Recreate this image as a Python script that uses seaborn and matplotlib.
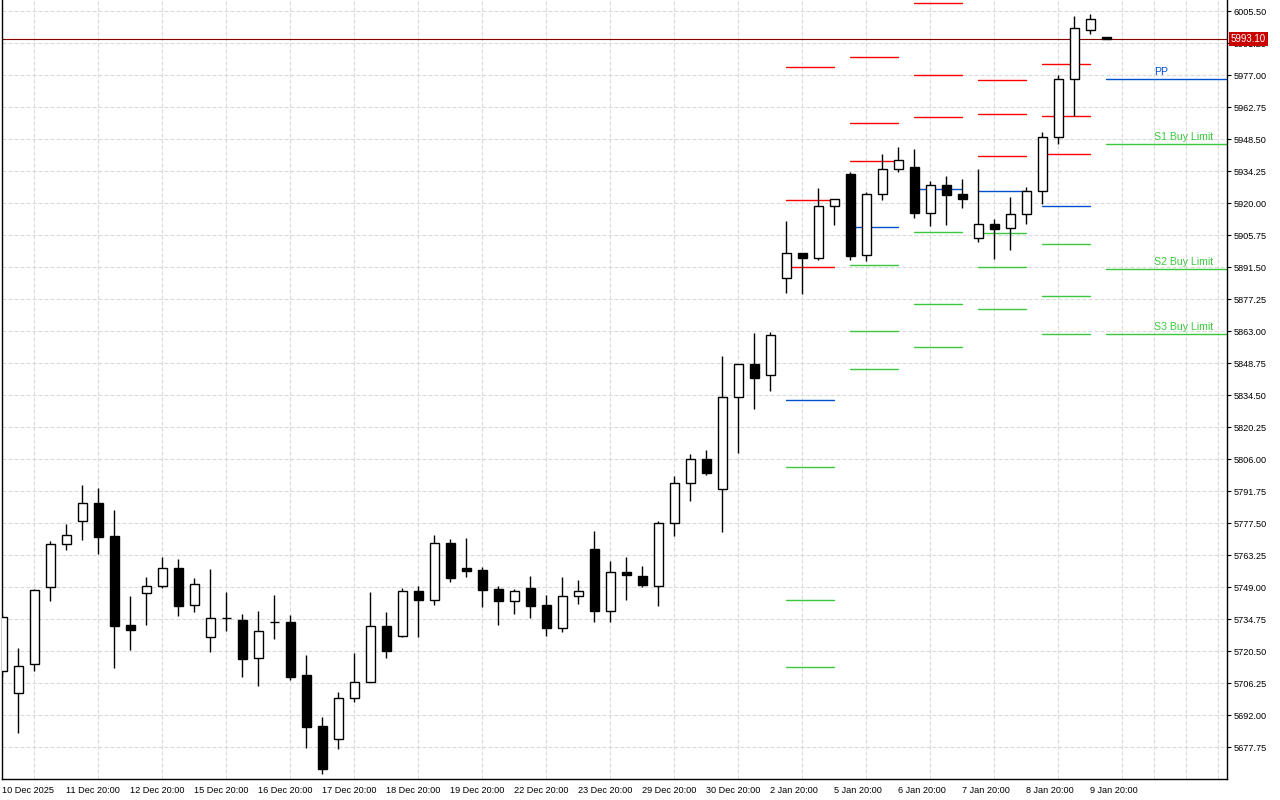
import matplotlib
matplotlib.use('Agg')
import matplotlib.pyplot as plt
import matplotlib.transforms as mtransforms
import numpy as np
import pandas as pd
import seaborn as sns

# OHLC of the bars, left to right
opens = [5711.72, 5701.79, 5714.70, 5748.99, 5768.14, 5778.38, 5786.40, 5771.70, 5732.20, 5746.32,
         5749.44, 5757.45, 5740.98, 5726.73, 5735.10, 5734.30, 5717.38, 5733.35, 5733.41, 5709.81,
         5687.10, 5681.31, 5699.56, 5706.96, 5731.63, 5727.17, 5747.21, 5743.20, 5768.59, 5757.45,
         5756.70, 5748.10, 5743.03, 5748.55, 5740.98, 5731.00, 5744.98, 5765.92, 5738.57, 5755.67,
         5753.89, 5749.71, 5777.49, 5795.31, 5805.99, 5792.63, 5833.60, 5848.43, 5843.40, 5886.60,
         5897.73, 5895.50, 5918.66, 5932.91, 5896.84, 5924.00, 5935.14, 5936.03, 5915.54, 5928.01,
         5924.00, 5904.41, 5910.65, 5908.86, 5915.10, 5925.34, 5949.39, 5975.22, 5997.04, 5993.92]
highs = [5737.00, 5721.96, 5748.24, 5769.61, 5777.18, 5794.55, 5793.08, 5783.42, 5745.12, 5753.58,
         5762.49, 5761.60, 5753.00, 5757.14, 5746.90, 5737.10, 5738.44, 5745.56, 5736.53, 5718.85,
         5691.24, 5702.37, 5719.87, 5746.77, 5737.86, 5748.55, 5749.44, 5772.15, 5770.37, 5770.81,
         5758.17, 5749.44, 5748.24, 5753.89, 5745.43, 5753.45, 5752.11, 5773.93, 5760.57, 5762.35,
         5758.35, 5778.38, 5798.56, 5808.36, 5810.14, 5852.00, 5848.60, 5862.24, 5862.68, 5912.11,
         5897.73, 5926.68, 5921.78, 5933.93, 5924.89, 5941.82, 5945.07, 5944.04, 5929.79, 5932.02,
         5930.68, 5935.14, 5912.87, 5922.67, 5927.12, 5951.61, 5977.00, 6003.40, 6004.30, 5994.00]
lows = [5709.00, 5683.98, 5711.85, 5743.03, 5765.60, 5770.19, 5763.96, 5713.19, 5721.07, 5732.34,
        5748.55, 5736.35, 5738.13, 5720.31, 5729.67, 5709.18, 5705.17, 5726.10, 5707.85, 5677.30,
        5665.99, 5677.12, 5698.05, 5706.69, 5717.64, 5726.86, 5726.99, 5741.24, 5751.49, 5753.71,
        5740.35, 5732.34, 5737.24, 5735.46, 5727.44, 5729.22, 5741.69, 5733.67, 5733.67, 5743.47,
        5749.26, 5740.80, 5771.84, 5787.56, 5799.00, 5773.49, 5808.93, 5828.53, 5836.54, 5880.18,
        5879.74, 5894.61, 5910.47, 5894.61, 5894.17, 5921.33, 5934.07, 5913.58, 5910.02, 5910.47,
        5918.04, 5902.90, 5895.06, 5899.07, 5910.91, 5919.55, 5946.27, 5959.01, 5995.26, 5993.10]
closes = [5735.77, 5713.81, 5747.66, 5768.14, 5772.15, 5786.40, 5771.53, 5731.89, 5730.11, 5749.44,
          5757.45, 5740.80, 5750.33, 5735.19, 5735.30, 5717.20, 5729.40, 5733.45, 5709.18, 5686.92,
          5668.21, 5699.56, 5706.69, 5731.63, 5720.76, 5747.21, 5743.20, 5768.59, 5753.27, 5756.39,
          5747.93, 5743.03, 5747.21, 5740.80, 5731.00, 5744.98, 5747.21, 5738.57, 5755.67, 5754.34,
          5750.15, 5777.49, 5795.31, 5805.99, 5800.03, 5833.60, 5848.30, 5842.33, 5861.21, 5897.73,
          5895.50, 5918.66, 5921.78, 5896.66, 5924.00, 5935.14, 5939.15, 5915.54, 5928.01, 5923.83,
          5922.04, 5910.65, 5908.69, 5915.10, 5925.34, 5949.39, 5975.22, 5997.93, 6001.94, 5993.10]

x_labels = ['10 Dec 2025', '11 Dec 20:00', '12 Dec 20:00', '15 Dec 20:00', '16 Dec 20:00',
            '17 Dec 20:00', '18 Dec 20:00', '19 Dec 20:00', '22 Dec 20:00', '23 Dec 20:00',
            '29 Dec 20:00', '30 Dec 20:00', '2 Jan 20:00', '5 Jan 20:00', '6 Jan 20:00',
            '7 Jan 20:00', '8 Jan 20:00', '9 Jan 20:00']
y_ticks = [5677.75, 5692.00, 5706.25, 5720.50, 5734.75, 5749.00, 5763.25, 5777.50, 5791.75,
           5806.00, 5820.25, 5834.50, 5848.75, 5863.00, 5877.25, 5891.50, 5905.75, 5920.00,
           5934.25, 5948.50, 5962.75, 5977.00, 5991.25, 6005.50]

# daily pivot levels, each drawn over one day's bars
seg_start = [49, 53, 57, 61, 65]
r3 = [5980.56, 5985.01, 6009.19, 5974.77, 5981.90]
r2 = [5921.33, 5955.62, 5977.00, 5959.63, 5958.74]
r1 = [5891.50, 5938.70, 5958.29, 5940.93, 5941.82]
pp = [5832.27, 5909.31, 5926.23, 5925.34, 5918.66]
s1 = [5802.43, 5892.39, 5907.08, 5906.64, 5901.74]
s2 = [5743.20, 5863.00, 5875.02, 5891.50, 5878.58]
s3 = [5713.37, 5846.07, 5855.87, 5872.79, 5861.66]

# today's levels with their labels
today_start = 69
today_keys = ['PP', 'S1', 'S2', 'S3']
today_names = ['PP', 'S1 Buy Limit', 'S2 Buy Limit', 'S3 Buy Limit']
today_levels = [5975.22, 5946.27, 5890.74, 5861.79]

last_price = 5993.10

RED = '#FF0000'
BLUE = '#0050D0'
GREEN = '#3CC83C'

sns.set_style('white')
plt.rcParams['font.family'] = ['Liberation Sans', 'DejaVu Sans']

fig = plt.figure(figsize=(12.8, 8), dpi=100)
ax = fig.add_axes([2.3 / 1280, 20.7 / 800, (1227 - 2.3) / 1280, (800 - 20.7) / 800])

x_max = 76.54
ax.set_xlim(0, x_max)
ax.set_ylim(5663.49, 6010.53)

# pivot segments through seaborn (one unit per day)
rows = []
for k, st in enumerate(seg_start):
    for name, vals in [('R3', r3), ('R2', r2), ('R1', r1), ('PP', pp), ('S1', s1), ('S2', s2), ('S3', s3)]:
        for xx in (st, st + 3):
            rows.append({'x': xx, 'price': vals[k], 'level': name, 'seg': k})
for key, val in zip(today_keys, today_levels):
    for xx in (today_start, x_max):
        rows.append({'x': xx, 'price': val, 'level': key, 'seg': 99})
piv = pd.DataFrame(rows)
pal = {'R3': RED, 'R2': RED, 'R1': RED, 'PP': BLUE, 'S1': GREEN, 'S2': GREEN, 'S3': GREEN}
sns.lineplot(data=piv, x='x', y='price', hue='level', units='seg', estimator=None,
             palette=pal, legend=False, linewidth=1.0, ax=ax, zorder=2)

for name, key, val in zip(today_names, today_keys, today_levels):
    ax.text(72, val + 1.8, name, color=pal[key], fontsize=7.6, ha='left', va='baseline')

# candles
idx = np.arange(len(opens))
o = np.array(opens)
c = np.array(closes)
up = c >= o
ax.vlines(idx, lows, highs, color='black', linewidth=1.0, zorder=3)
body_low = np.minimum(o, c)
body_h = np.maximum(np.abs(c - o), 0.25)
ax.bar(idx, body_h, bottom=body_low, width=0.6,
       color=np.where(up, 'white', 'black'), edgecolor='black', linewidth=1.0, zorder=4)

# current price line and tag
ax.axhline(last_price, color='#8A0000', linewidth=0.8, zorder=1.5)
trans = mtransforms.blended_transform_factory(ax.transAxes, ax.transData)
ax.text(1.003, last_price, f'{last_price:.2f}', transform=trans, ha='left', va='center',
        color='white', fontsize=7, zorder=10,
        bbox=dict(boxstyle='square,pad=0.2', fc='#C80000', ec='none'))

# axes styling
ax.set_xticks(range(0, 70, 4))
ax.set_xticklabels(x_labels, ha='left')
ax.set_xticks(range(0, 77, 2), minor=True)
ax.yaxis.tick_right()
ax.set_yticks(y_ticks)
ax.set_yticklabels([f'{v:.2f}' for v in y_ticks])
ax.tick_params(axis='both', which='major', direction='out', length=3, width=0.8,
               colors='black', labelsize=6.6, pad=1.5)
ax.tick_params(axis='x', which='minor', length=0)
ax.set_xlabel('')
ax.set_ylabel('')

grid_kw = dict(color='#DADADA', linestyle=(0, (3.6, 1.8)), linewidth=0.8)
ax.grid(True, which='minor', axis='x', **grid_kw)
ax.grid(True, which='major', axis='y', **grid_kw)
ax.set_axisbelow(True)

for side in ['left', 'bottom', 'right']:
    ax.spines[side].set_visible(True)
    ax.spines[side].set_color('black')
    ax.spines[side].set_linewidth(1.0)
ax.spines['top'].set_visible(False)

fig.savefig('out.png', dpi=100)
